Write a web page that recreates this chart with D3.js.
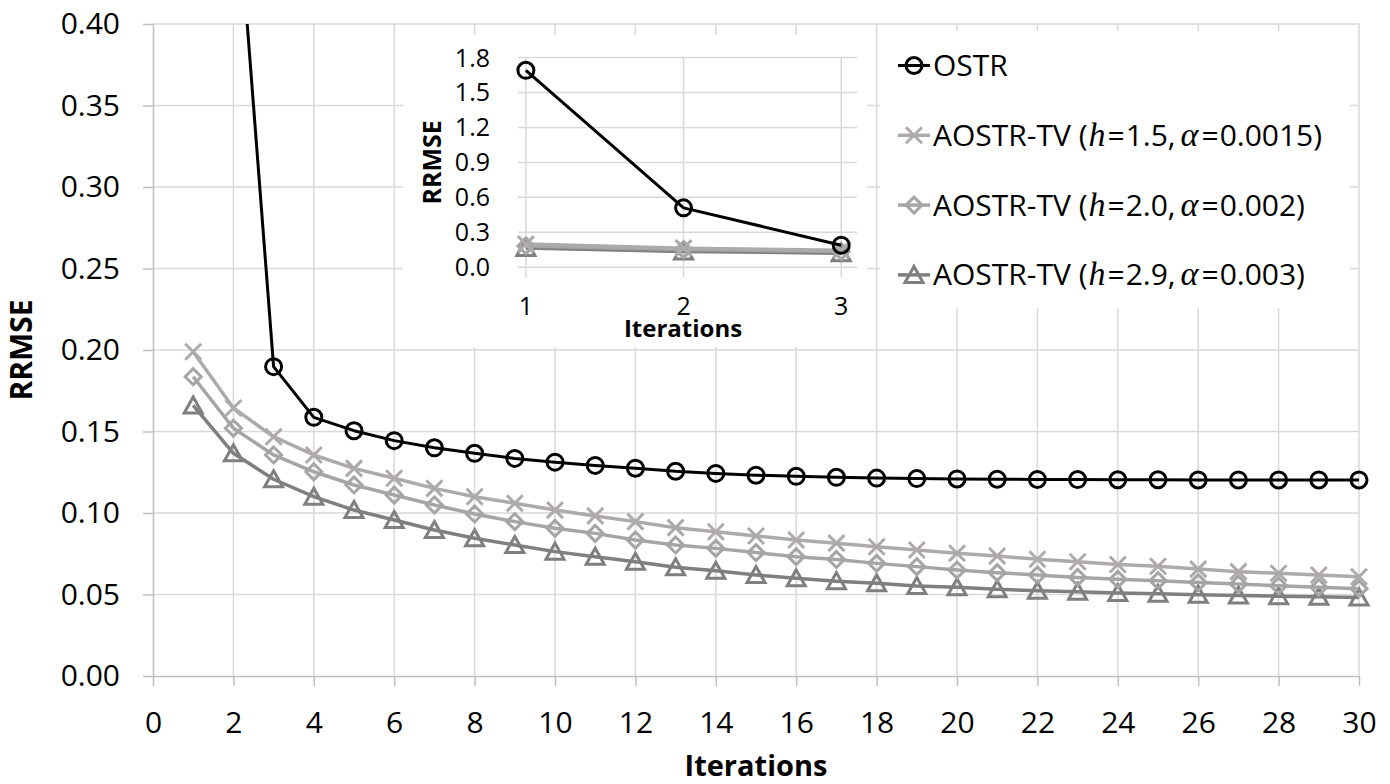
<!DOCTYPE html>
<html>
<head>
<meta charset="utf-8">
<script src="https://cdn.jsdelivr.net/npm/d3@7"></script>
<style>
  body { margin: 0; background: #fff; }
  svg { display: block; font-family: "Open Sans", sans-serif; }
</style>
</head>
<body>
<div id="chart"></div>
<script>
// ---- data ----
const iterations = [1, 2, 3, 4, 5, 6, 7, 8, 9, 10, 11, 12, 13, 14, 15,
  16, 17, 18, 19, 20, 21, 22, 23, 24, 25, 26, 27, 28, 29, 30];
const insetIterations = [1, 2, 3];

const ostr = [1.69, 0.51, 0.1898, 0.1587, 0.1505, 0.1444, 0.14, 0.1366, 0.1335, 0.1312,
  0.1292, 0.1275, 0.1256, 0.1243, 0.1232, 0.1225, 0.1219, 0.1214, 0.1211, 0.1209,
  0.1207, 0.1206, 0.1205, 0.1204, 0.1204, 0.1203, 0.1203, 0.1203, 0.1203, 0.1203];
const aostrH15 = [0.1989, 0.1644, 0.1468, 0.1356, 0.1274, 0.1213, 0.1151, 0.11, 0.106, 0.1018,
  0.0982, 0.0947, 0.091, 0.0885, 0.0859, 0.0834, 0.0815, 0.0793, 0.0773, 0.0753,
  0.0736, 0.0716, 0.0701, 0.0684, 0.0673, 0.0656, 0.064, 0.063, 0.062, 0.0609];
const aostrH20 = [0.1836, 0.152, 0.1356, 0.1253, 0.1172, 0.111, 0.1049, 0.0994, 0.0947, 0.0906,
  0.0875, 0.0834, 0.0804, 0.0783, 0.0757, 0.0732, 0.0715, 0.0691, 0.0671, 0.065,
  0.0634, 0.062, 0.0605, 0.0593, 0.0585, 0.0573, 0.0564, 0.0554, 0.0544, 0.0536];
const aostrH29 = [0.166, 0.1366, 0.1207, 0.11, 0.1018, 0.0957, 0.0896, 0.0845, 0.0804, 0.0763,
  0.0732, 0.0701, 0.0667, 0.0646, 0.062, 0.0599, 0.0582, 0.0569, 0.0552, 0.0544,
  0.0532, 0.0523, 0.0517, 0.0509, 0.0505, 0.0499, 0.0494, 0.049, 0.0486, 0.0482];

const seriesLabels = ["OSTR", "AOSTR-TV", "AOSTR-TV", "AOSTR-TV"];
const labelH = [null, "1.5", "2.0", "2.9"];
const labelAlpha = [null, "0.0015", "0.002", "0.003"];

const yTicks = [0, 0.05, 0.1, 0.15, 0.2, 0.25, 0.3, 0.35, 0.4];
const xTicks = [0, 2, 4, 6, 8, 10, 12, 14, 16, 18, 20, 22, 24, 26, 28, 30];
const insetYTicks = [0, 0.3, 0.6, 0.9, 1.2, 1.5, 1.8];

// ---- styles ----
const seriesValues = [ostr, aostrH15, aostrH20, aostrH29];
const colors = ["#000000", "#aeaaaa", "#a5a5a5", "#7f7f7f"];
const markers = ["circle", "x", "diamond", "triangle"];
const lineWidths = [3, 3.5, 3.5, 3.5];
const gridColor = "#d9d9d9";
const axisColor = "#bfbfbf";

const series = seriesValues.map((vals, i) => ({
  values: iterations.map((it, j) => ({ it, v: vals[j] })),
  color: colors[i],
  marker: markers[i],
  width: lineWidths[i],
}));

function markerPath(type) {
  if (type === "circle") return d3.symbol(d3.symbolCircle, 8 * 8 * Math.PI)();
  if (type === "x") return "M-8,-8L8,8M-8,8L8,-8";
  if (type === "diamond") return "M0,-8L8,0L0,8L-8,0Z";
  return "M0,-8.5L9,7.5L-9,7.5Z";
}

const width = 1390;
const height = 784;

const svg = d3
  .select("#chart")
  .append("svg")
  .attr("width", width)
  .attr("height", height)
  .attr("viewBox", `0 0 ${width} ${height}`);

svg.append("rect").attr("width", width).attr("height", height).attr("fill", "#fff");

const x = d3.scaleLinear().domain([0, 30]).range([153, 1359]);
const y = d3.scaleLinear().domain([0, 0.4]).range([676, 24]);

// grid
const grid = svg.append("g");
grid.selectAll(".hg")
  .data(yTicks.slice(1))
  .join("line")
  .attr("x1", x(0)).attr("x2", x(30))
  .attr("y1", (d) => y(d)).attr("y2", (d) => y(d))
  .attr("stroke", gridColor).attr("stroke-width", 1.5);
grid.selectAll(".vg")
  .data(xTicks.slice(1))
  .join("line")
  .attr("x1", (d) => x(d)).attr("x2", (d) => x(d))
  .attr("y1", y(0)).attr("y2", y(0.4))
  .attr("stroke", gridColor).attr("stroke-width", 1.5);

function styleAxis(sel, size) {
  sel.attr("font-family", null).attr("font-size", null);
  sel.selectAll("path, line").attr("stroke", axisColor).attr("stroke-width", 1.5);
  sel.selectAll("text").attr("fill", "#000").style("font-size", `${size}px`);
}

svg.append("g")
  .attr("transform", `translate(${x(0)},0)`)
  .call(d3.axisLeft(y).tickValues(yTicks).tickSize(10).tickSizeOuter(0)
    .tickPadding(23).tickFormat(d3.format(".2f")))
  .call(styleAxis, 30);

svg.append("g")
  .attr("transform", `translate(0,${y(0)})`)
  .call(d3.axisBottom(x).tickValues(xTicks).tickSize(10).tickSizeOuter(0)
    .tickPadding(26).tickFormat(d3.format("d")))
  .call(styleAxis, 30);

svg.append("text")
  .attr("x", (x(0) + x(30)) / 2)
  .attr("y", 776)
  .attr("text-anchor", "middle")
  .attr("font-weight", "bold")
  .attr("font-size", 29)
  .text("Iterations");

svg.append("text")
  .attr("transform", `translate(32,${(y(0) + y(0.4)) / 2}) rotate(-90)`)
  .attr("text-anchor", "middle")
  .attr("font-weight", "bold")
  .attr("font-size", 30)
  .text("RRMSE");

// series
svg.append("clipPath").attr("id", "plotClip")
  .append("rect")
  .attr("x", x(0) - 12).attr("y", y(0.4))
  .attr("width", x(30) - x(0) + 24).attr("height", y(0) - y(0.4));

function drawSeries(g, sx, sy, data) {
  const line = d3.line().x((d) => sx(d.it)).y((d) => sy(d.v));
  data.slice().reverse().forEach((s) => {
    g.append("path")
      .datum(s.values)
      .attr("fill", "none")
      .attr("stroke", s.color)
      .attr("stroke-width", s.width)
      .attr("stroke-linejoin", "round")
      .attr("d", line);
    g.selectAll(null)
      .data(s.values)
      .join("path")
      .attr("transform", (d) => `translate(${sx(d.it)},${sy(d.v)})`)
      .attr("d", markerPath(s.marker))
      .attr("fill", "none")
      .attr("stroke", s.color)
      .attr("stroke-width", 3);
  });
}

const plot = svg.append("g").attr("clip-path", "url(#plotClip)");
drawSeries(plot, x, y, series);

// ---- inset ----
const inset = svg.append("g");
inset.append("rect")
  .attr("x", 403).attr("y", 35).attr("width", 464).attr("height", 312)
  .attr("fill", "#fff");

const ix = d3.scaleLinear().domain([0.95, 3.1]).range([518, 857]);
const iy = d3.scaleLinear().domain([0, 1.8]).range([267.3, 57.5]);

inset.selectAll(".ihg")
  .data(insetYTicks)
  .join("line")
  .attr("x1", ix(0.95)).attr("x2", ix(3.1))
  .attr("y1", (d) => iy(d)).attr("y2", (d) => iy(d))
  .attr("stroke", gridColor).attr("stroke-width", 1.5);
inset.selectAll(".ivg")
  .data(insetIterations)
  .join("line")
  .attr("x1", (d) => ix(d)).attr("x2", (d) => ix(d))
  .attr("y1", iy(1.8)).attr("y2", iy(0) + 10)
  .attr("stroke", gridColor).attr("stroke-width", 1.5);

inset.selectAll(".iyl")
  .data(insetYTicks)
  .join("text")
  .attr("x", 490)
  .attr("y", (d) => iy(d))
  .attr("dy", "0.36em")
  .attr("text-anchor", "end")
  .attr("font-size", 25)
  .text(d3.format(".1f"));
inset.selectAll(".ixl")
  .data(insetIterations)
  .join("text")
  .attr("x", (d) => ix(d))
  .attr("y", 315)
  .attr("text-anchor", "middle")
  .attr("font-size", 25)
  .text((d) => d);

inset.append("text")
  .attr("x", 683).attr("y", 337)
  .attr("text-anchor", "middle")
  .attr("font-weight", "bold")
  .attr("font-size", 24)
  .text("Iterations");
inset.append("text")
  .attr("transform", `translate(441,${(iy(0) + iy(1.8)) / 2}) rotate(-90)`)
  .attr("text-anchor", "middle")
  .attr("font-weight", "bold")
  .attr("font-size", 25)
  .text("RRMSE");

const insetSeries = series.map((s) => ({
  ...s,
  values: s.values.filter((d) => insetIterations.includes(d.it)),
}));
drawSeries(inset.append("g"), ix, iy, insetSeries);

// ---- legend ----
const legend = svg.append("g");
legend.append("rect")
  .attr("x", 880).attr("y", 31).attr("width", 470).attr("height", 277)
  .attr("fill", "#fff");

const mathFont = "'Liberation Serif', 'DejaVu Serif', serif";
series.forEach((s, i) => {
  const cy = 65.5 + i * 69.8;
  const row = legend.append("g").attr("transform", `translate(0,${cy})`);
  row.append("line")
    .attr("x1", 898).attr("x2", 930)
    .attr("stroke", s.color).attr("stroke-width", s.width);
  row.append("path")
    .attr("transform", "translate(914,0)")
    .attr("d", markerPath(s.marker))
    .attr("fill", "none")
    .attr("stroke", s.color)
    .attr("stroke-width", 3);
  const t = row.append("text")
    .attr("x", 933).attr("y", 10.5)
    .attr("font-size", 30)
    .attr("xml:space", "preserve");
  t.append("tspan").text(seriesLabels[i]);
  if (labelH[i]) {
    t.append("tspan").text(" (");
    t.append("tspan").attr("font-family", mathFont).attr("font-size", 34)
      .attr("font-style", "italic").attr("dx", 1).text("h");
    t.append("tspan").attr("dx", 2).text("=");
    t.append("tspan").attr("dx", 1).text(`${labelH[i]},`);
    t.append("tspan").attr("font-family", mathFont).attr("font-size", 34)
      .attr("font-style", "italic").attr("dx", 5).text("α");
    t.append("tspan").attr("dx", 3).text("=");
    t.append("tspan").attr("dx", 1).text(`${labelAlpha[i]})`);
  }
});
</script>
</body>
</html>
